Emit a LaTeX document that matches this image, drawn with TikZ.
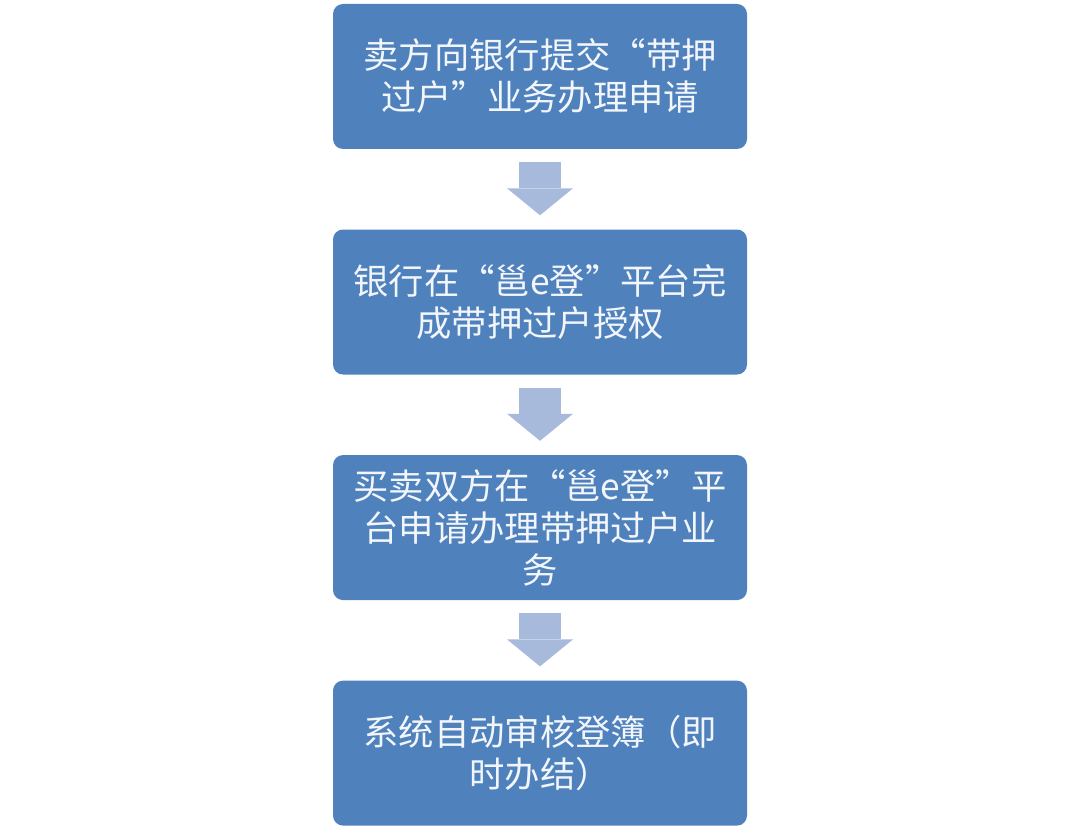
\documentclass[tikz,border=0pt]{standalone}
\usepackage{fontspec}
\setmainfont{Noto Sans CJK SC}
\usetikzlibrary{arrows.meta,positioning}
\definecolor{flowblue}{HTML}{4F81BD}
\definecolor{flowarrow}{HTML}{A8BADB}
\definecolor{flowtext}{HTML}{F2F5FA}

\begin{document}
\begin{tikzpicture}[
  x=0.75pt, y=0.75pt,
  font=\fontsize{26.5pt}{31.5pt}\selectfont,
  stage/.style={fill=flowblue, draw=none, rounded corners=7.5pt, align=center,
    text=flowtext, minimum width=310.5pt, minimum height=108.75pt, inner sep=0pt},
  push/.style={draw=flowarrow, line width=31.5pt,
    -{Triangle[length=20.25pt,width=49.5pt,line width=0pt]},
    shorten <=9.75pt, shorten >=10.5pt},
]
\useasboundingbox (0,0) rectangle (1080,826);
\node[stage] (apply) at (540,749.5) {卖方向银行提交“带押\\过户”业务办理申请};
\node[stage, below=60pt of apply] (grant) {银行在“邕e登”平台完\\成带押过户授权};
\node[stage, below=60pt of grant] (online) {买卖双方在“邕e登”平\\台申请办理带押过户业\\务};
\node[stage, below=60pt of online] (audit) {系统自动审核登簿（即\\时办结）};
\draw[push] (apply) -- (grant);
\draw[push] (grant) -- (online);
\draw[push] (online) -- (audit);
\end{tikzpicture}
\end{document}
